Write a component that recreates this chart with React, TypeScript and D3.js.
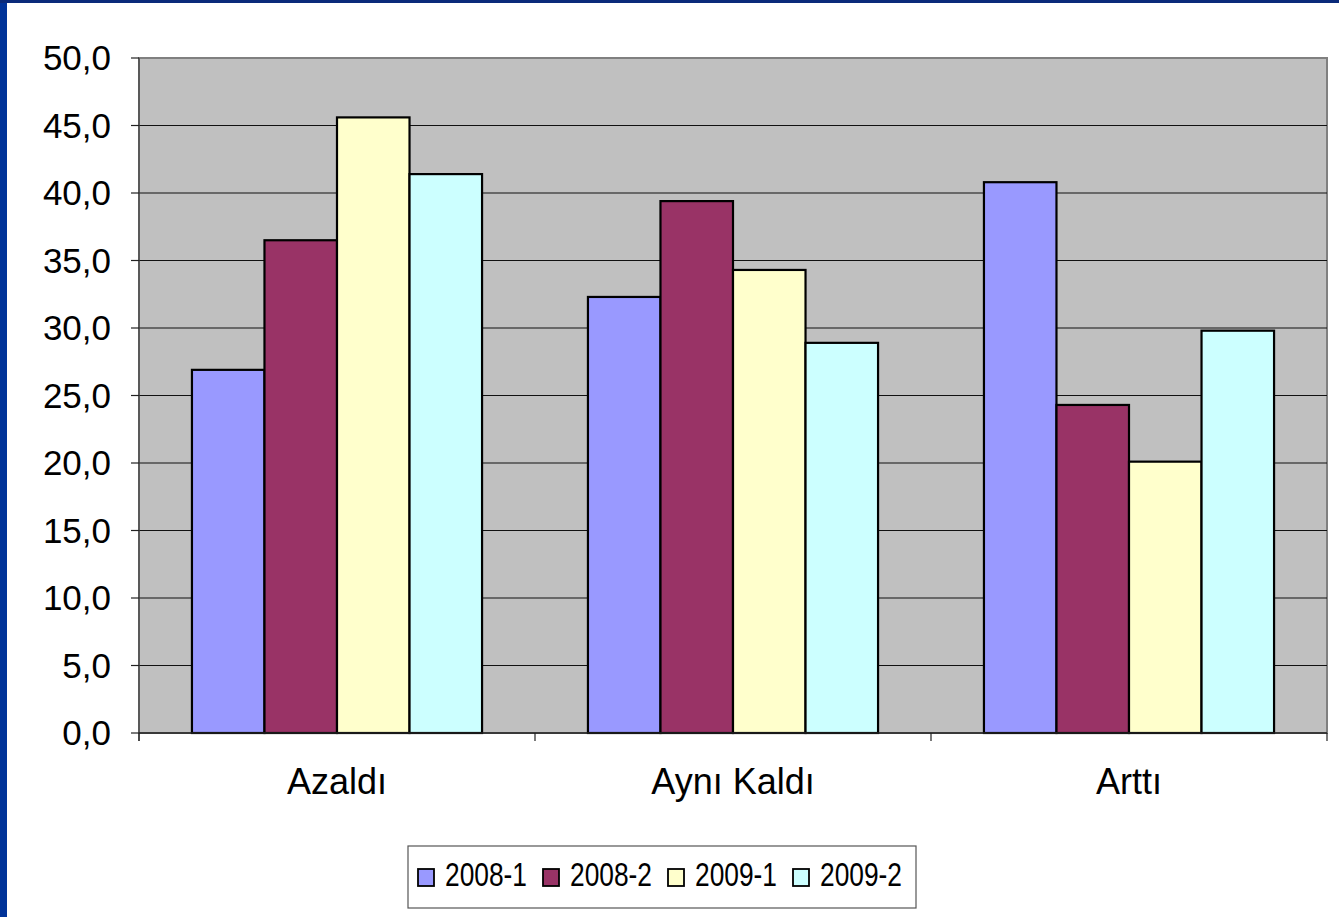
import React from "react";
import * as d3 from "d3";

const categories = ["Azaldı", "Aynı Kaldı", "Arttı"];
const seriesNames = ["2008-1", "2008-2", "2009-1", "2009-2"];
const s2008_1 = [26.9, 32.3, 40.8];
const s2008_2 = [36.5, 39.4, 24.3];
const s2009_1 = [45.6, 34.3, 20.1];
const s2009_2 = [41.4, 28.9, 29.8];
const seriesValues = [s2008_1, s2008_2, s2009_1, s2009_2];
const seriesColors = ["#9999FF", "#993366", "#FFFFCC", "#CCFFFF"];
const yTicks = [0, 5, 10, 15, 20, 25, 30, 35, 40, 45, 50];

const W = 1339;
const H = 917;
const plot = { left: 139, right: 1327, top: 58, bottom: 733 };

export default function App() {
  const x0 = d3.scaleBand<string>().domain(categories).range([plot.left, plot.right]).padding(0);
  const x1 = d3
    .scaleBand<string>()
    .domain(seriesNames)
    .range([0, x0.bandwidth()])
    .paddingInner(0)
    .paddingOuter(0.73);
  const y = d3.scaleLinear().domain([0, 50]).range([plot.bottom, plot.top]);
  const fmt = (v: number) => d3.format(".1f")(v).replace(".", ",");
  const font = "Arial, 'Liberation Sans', sans-serif";
  const bandEdges = categories.map((c) => x0(c)!).concat([plot.right]);

  const legendX = 408;
  const legendY = 846;
  const legendStep = 125;

  return (
    <svg
      width={W}
      height={H}
      style={{ position: "absolute", left: 0, top: 0, background: "#fff" }}
      fontFamily={font}
    >
      <rect x={0} y={0} width={W} height={H} fill="#fff" />
      {/* frame */}
      <rect x={0} y={0} width={7} height={H} fill="#003399" />
      <rect x={0} y={0} width={W} height={3} fill="#0a2a7a" />

      {/* plot area */}
      <rect
        x={plot.left}
        y={plot.top}
        width={plot.right - plot.left}
        height={plot.bottom - plot.top}
        fill="#C0C0C0"
        stroke="#808080"
        strokeWidth={2}
      />
      {/* gridlines */}
      {yTicks.slice(1, -1).map((t) => (
        <line key={t} x1={plot.left} x2={plot.right} y1={y(t)} y2={y(t)} stroke="#111" strokeWidth={1.2} />
      ))}

      {/* bars */}
      {categories.map((c, ci) => (
        <g key={c} transform={`translate(${x0(c)},0)`}>
          {seriesNames.map((s, si) => {
            const v = seriesValues[si][ci];
            return (
              <rect
                key={s}
                x={x1(s)}
                y={y(v)}
                width={x1.bandwidth()}
                height={y(0) - y(v)}
                fill={seriesColors[si]}
                stroke="#000"
                strokeWidth={2.2}
              />
            );
          })}
        </g>
      ))}

      {/* axes */}
      <line x1={plot.left} x2={plot.left} y1={plot.top} y2={plot.bottom + 8} stroke="#444" strokeWidth={1.3} />
      <line x1={plot.left} x2={plot.right} y1={plot.bottom} y2={plot.bottom} stroke="#222" strokeWidth={1.5} />
      {yTicks.map((t) => (
        <g key={t}>
          <line x1={plot.left - 8} x2={plot.left} y1={y(t)} y2={y(t)} stroke="#222" strokeWidth={1.2} />
          <text x={111} y={y(t) + 12} textAnchor="end" fontSize={35} fill="#000">
            {fmt(t)}
          </text>
        </g>
      ))}
      {bandEdges.map((e, i) => (
        <line key={i} x1={e} x2={e} y1={plot.bottom} y2={plot.bottom + 8} stroke="#222" strokeWidth={1.2} />
      ))}
      {categories.map((c) => (
        <text key={c} x={x0(c)! + x0.bandwidth() / 2} y={794} textAnchor="middle" fontSize={36} fill="#000">
          {c}
        </text>
      ))}

      {/* legend */}
      <rect x={legendX} y={legendY} width={508} height={62} fill="#fff" stroke="#555" strokeWidth={1.2} />
      {seriesNames.map((s, i) => (
        <g key={s} transform={`translate(${legendX + 10 + i * legendStep},0)`}>
          <rect x={0} y={869} width={16} height={17} fill={seriesColors[i]} stroke="#000" strokeWidth={1.8} />
          <text
            x={27}
            y={886}
            fontSize={33}
            fill="#000"
            textLength={82}
            lengthAdjust="spacingAndGlyphs"
          >
            {s}
          </text>
        </g>
      ))}
    </svg>
  );
}
